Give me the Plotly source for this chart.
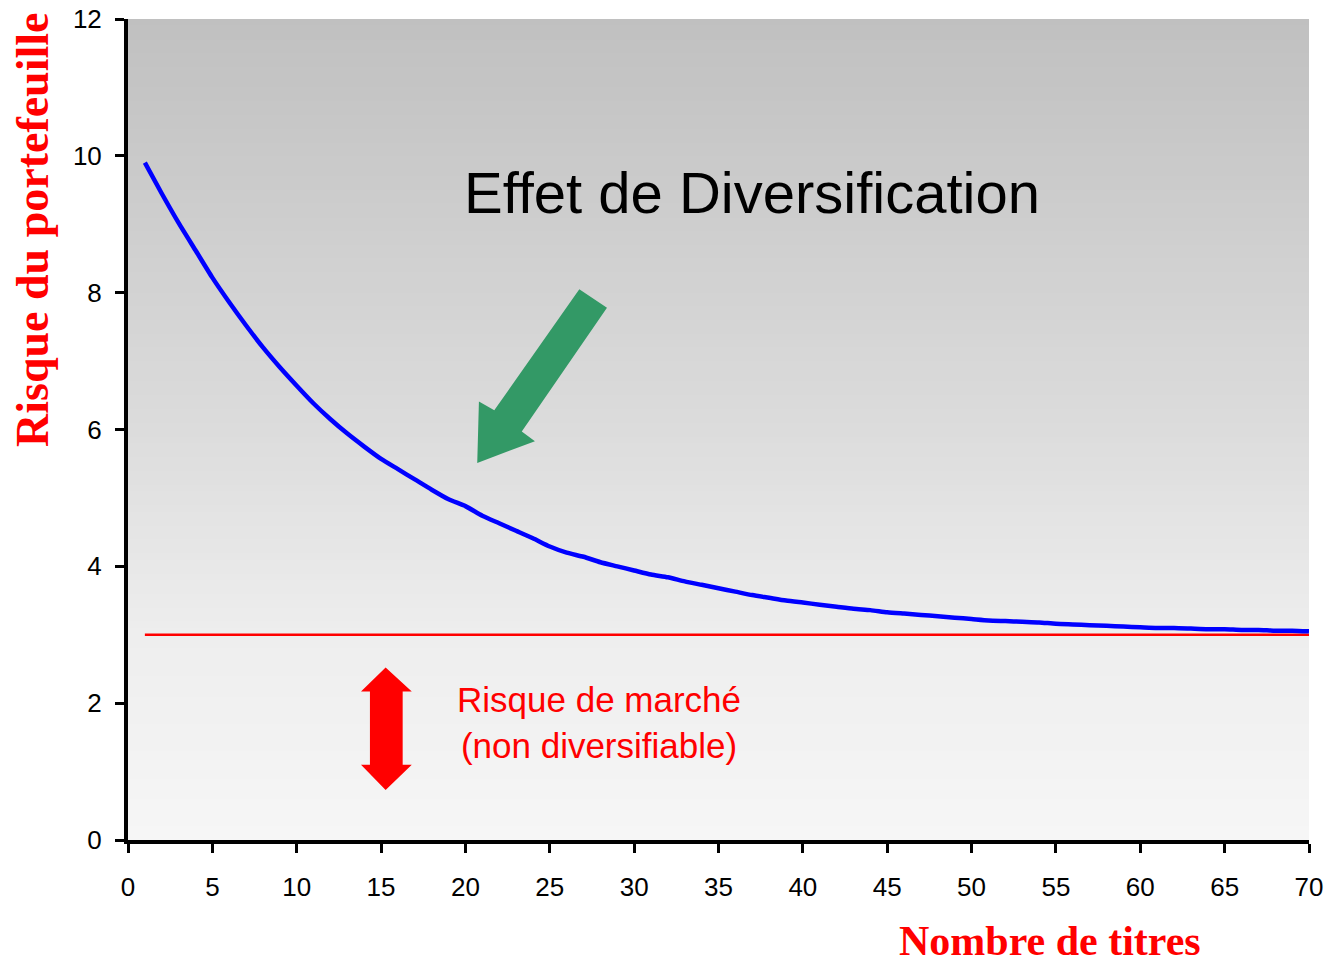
import plotly.graph_objects as go

# Portfolio risk as a function of the number of securities held
nombre_titres = list(range(1, 71))
risque_portefeuille = [
    9.90, 9.45, 9.02, 8.62, 8.22, 7.86, 7.52, 7.20, 6.91, 6.64,
    6.38, 6.15, 5.94, 5.75, 5.57, 5.42, 5.27, 5.12, 4.98, 4.88,
    4.74, 4.63, 4.52, 4.41, 4.29, 4.20, 4.14, 4.06, 4.00, 3.94,
    3.88, 3.84, 3.78, 3.73, 3.68, 3.63, 3.58, 3.54, 3.50, 3.47,
    3.44, 3.41, 3.38, 3.36, 3.33, 3.31, 3.29, 3.27, 3.25, 3.23,
    3.21, 3.20, 3.19, 3.18, 3.16, 3.15, 3.14, 3.13, 3.12, 3.11,
    3.10, 3.10, 3.09, 3.08, 3.08, 3.07, 3.07, 3.06, 3.06, 3.05,
]

# Market (non-diversifiable) risk level
marche_x = [1, 70]
risque_marche = [3, 3]

x_ticks = [0, 5, 10, 15, 20, 25, 30, 35, 40, 45, 50, 55, 60, 65, 70]
y_ticks = [0, 2, 4, 6, 8, 10, 12]

fig = go.Figure()

fig.add_trace(go.Scatter(
    x=marche_x, y=risque_marche, mode="lines",
    line=dict(color="#ff0000", width=2.5), showlegend=False, hoverinfo="skip",
))
fig.add_trace(go.Scatter(
    x=nombre_titres, y=risque_portefeuille, mode="lines",
    line=dict(color="#0000ff", width=4.5, shape="spline", smoothing=0.6),
    showlegend=False,
))

# Vertical grey gradient behind the plot area
shapes = []
n_bands = 120
stops = [(0.0, 192), (0.5, 220), (0.75, 238), (1.0, 246)]


def grey_at(f):
    for (f0, g0), (f1, g1) in zip(stops[:-1], stops[1:]):
        if f0 <= f <= f1:
            return g0 + (g1 - g0) * (f - f0) / (f1 - f0)
    return stops[-1][1]


for i in range(n_bands):
    top = 1 - i / n_bands
    bottom = 1 - (i + 1) / n_bands
    g = int(round(grey_at((i + 0.5) / n_bands)))
    shapes.append(dict(
        type="rect", xref="x domain", yref="y domain",
        x0=0, x1=1, y0=bottom - 0.001, y1=top,
        fillcolor=f"rgb({g},{g},{g})", line=dict(width=0), layer="below",
    ))

# Green block arrow pointing at the curve
green_arrow = [(26.75, 8.05), (28.39, 7.78), (23.34, 5.97), (24.12, 5.83),
               (20.70, 5.51), (20.80, 6.41), (21.71, 6.28)]
shapes.append(dict(
    type="path", xref="x", yref="y",
    path="M " + " L ".join(f"{x},{y}" for x, y in green_arrow) + " Z",
    fillcolor="#339966", line=dict(width=0), layer="above",
))

# Red double-headed arrow for market risk
red_arrow = [(15.27, 2.52), (16.82, 2.17), (16.28, 2.17), (16.28, 1.10),
             (16.82, 1.10), (15.27, 0.73), (13.81, 1.10), (14.34, 1.10),
             (14.34, 2.17), (13.81, 2.17)]
shapes.append(dict(
    type="path", xref="x", yref="y",
    path="M " + " L ".join(f"{x},{y}" for x, y in red_arrow) + " Z",
    fillcolor="#ff0000", line=dict(width=0), layer="above",
))

annotations = [
    dict(text="Effet de Diversification", x=36.96, y=9.47, xref="x", yref="y",
         showarrow=False, xanchor="center", yanchor="middle",
         font=dict(family="Liberation Sans, Arial", size=58, color="#000000")),
    dict(text="Risque de marché<br>(non diversifiable)", x=27.92, y=1.72,
         xref="x", yref="y", showarrow=False, xanchor="center", yanchor="middle",
         font=dict(family="Liberation Sans, Arial", size=35, color="#ff0000")),
    dict(text="<b>Risque du portefeuille</b>", x=0, y=0.743, xref="paper", yref="paper",
         xshift=-95, textangle=-90, showarrow=False, xanchor="center", yanchor="middle",
         font=dict(family="Liberation Serif, Times New Roman", size=46, color="#ff0000")),
    dict(text="<b>Nombre de titres</b>", x=0.781, y=0, xref="paper", yref="paper",
         yshift=-125, showarrow=False, xanchor="center", yanchor="bottom", borderpad=0,
         font=dict(family="Liberation Serif, Times New Roman", size=42, color="#ff0000")),
]

fig.update_layout(
    width=1328, height=967,
    margin=dict(l=128, r=19, t=19, b=127, autoexpand=False),
    paper_bgcolor="#ffffff", plot_bgcolor="#f5f5f5",
    shapes=shapes, annotations=annotations,
    font=dict(family="Liberation Sans, Arial", size=26, color="#000000"),
)
fig.update_xaxes(
    range=[0, 70], tickvals=x_ticks, ticktext=[str(v) for v in x_ticks],
    showgrid=False, zeroline=False, showline=True, linecolor="#000000", linewidth=4,
    ticks="outside", ticklen=9, tickwidth=3, tickcolor="#000000",
    ticklabelstandoff=12, tickfont=dict(size=26), automargin=False,
)
fig.update_yaxes(
    range=[0, 12], tickvals=y_ticks, ticktext=[str(v) for v in y_ticks],
    showgrid=False, zeroline=False, showline=True, linecolor="#000000", linewidth=4,
    ticks="outside", ticklen=9, tickwidth=3, tickcolor="#000000",
    ticklabelstandoff=8, tickfont=dict(size=26), automargin=False,
)

fig.write_html("out.html")
